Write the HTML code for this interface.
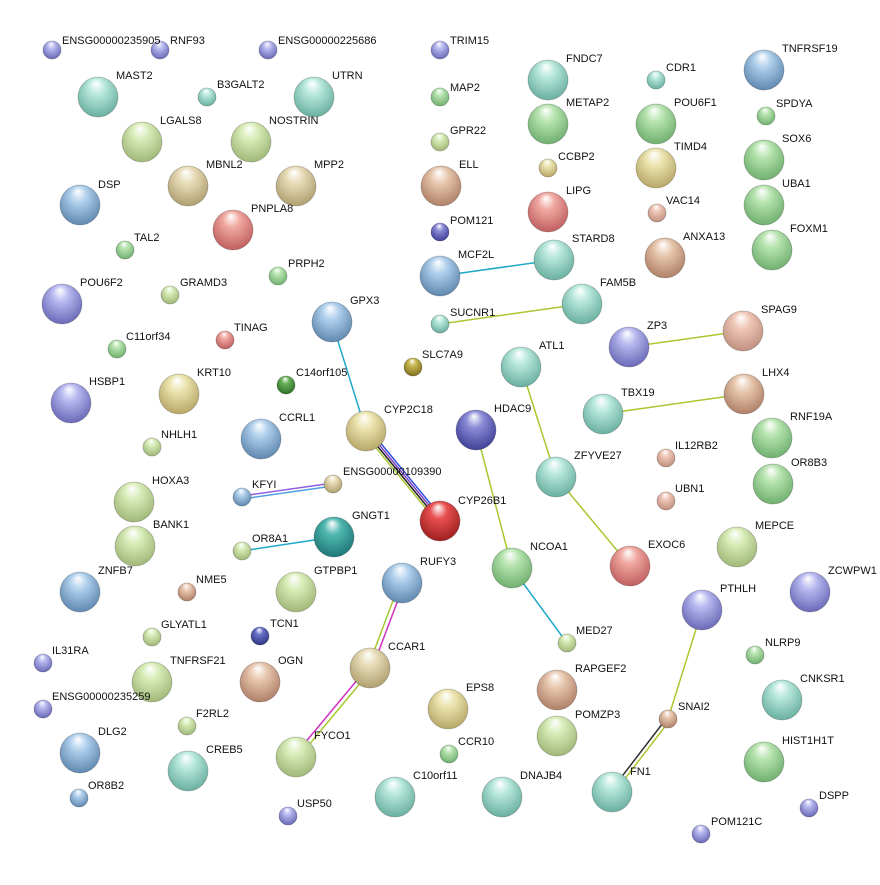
<!DOCTYPE html>
<html><head><meta charset="utf-8"><style>
html,body{margin:0;padding:0;background:#fff}
svg text{font-family:"Liberation Sans",sans-serif;font-size:11px;fill:#111}
</style></head><body>
<svg width="880" height="880" viewBox="0 0 880 880" xmlns="http://www.w3.org/2000/svg">
<defs>
<radialGradient id="purple" cx="50%" cy="40%" r="60%" fx="45%" fy="15%"><stop offset="0" stop-color="#fff"/><stop offset="0.35" stop-color="#b8b8f0"/><stop offset="1" stop-color="#6a6ab8"/></radialGradient>
<radialGradient id="teal" cx="50%" cy="40%" r="60%" fx="45%" fy="15%"><stop offset="0" stop-color="#fff"/><stop offset="0.35" stop-color="#b8e8dc"/><stop offset="1" stop-color="#6ab0a0"/></radialGradient>
<radialGradient id="green" cx="50%" cy="40%" r="60%" fx="45%" fy="15%"><stop offset="0" stop-color="#fff"/><stop offset="0.35" stop-color="#b8e4b0"/><stop offset="1" stop-color="#70b070"/></radialGradient>
<radialGradient id="lgreen" cx="50%" cy="40%" r="60%" fx="45%" fy="15%"><stop offset="0" stop-color="#fff"/><stop offset="0.35" stop-color="#d8ecb8"/><stop offset="1" stop-color="#a0b878"/></radialGradient>
<radialGradient id="tan" cx="50%" cy="40%" r="60%" fx="45%" fy="15%"><stop offset="0" stop-color="#fff"/><stop offset="0.35" stop-color="#e8dcb8"/><stop offset="1" stop-color="#b0a070"/></radialGradient>
<radialGradient id="brown" cx="50%" cy="40%" r="60%" fx="45%" fy="15%"><stop offset="0" stop-color="#fff"/><stop offset="0.35" stop-color="#e8c8b0"/><stop offset="1" stop-color="#b08068"/></radialGradient>
<radialGradient id="red" cx="50%" cy="40%" r="60%" fx="45%" fy="15%"><stop offset="0" stop-color="#fff"/><stop offset="0.35" stop-color="#f0a8a0"/><stop offset="1" stop-color="#c06060"/></radialGradient>
<radialGradient id="blue" cx="50%" cy="40%" r="60%" fx="45%" fy="15%"><stop offset="0" stop-color="#fff"/><stop offset="0.35" stop-color="#b0d0ec"/><stop offset="1" stop-color="#6088b0"/></radialGradient>
<radialGradient id="yellow" cx="50%" cy="40%" r="60%" fx="45%" fy="15%"><stop offset="0" stop-color="#fff"/><stop offset="0.35" stop-color="#ece4b0"/><stop offset="1" stop-color="#b8a868"/></radialGradient>
<radialGradient id="pink" cx="50%" cy="40%" r="60%" fx="45%" fy="15%"><stop offset="0" stop-color="#fff"/><stop offset="0.35" stop-color="#f0c8b8"/><stop offset="1" stop-color="#c09080"/></radialGradient>
<radialGradient id="olive" cx="50%" cy="40%" r="60%" fx="45%" fy="15%"><stop offset="0" stop-color="#fff"/><stop offset="0.35" stop-color="#c8b850"/><stop offset="1" stop-color="#807020"/></radialGradient>
<radialGradient id="dgreen" cx="50%" cy="40%" r="60%" fx="45%" fy="15%"><stop offset="0" stop-color="#fff"/><stop offset="0.35" stop-color="#68b058"/><stop offset="1" stop-color="#307028"/></radialGradient>
<radialGradient id="dblue" cx="50%" cy="40%" r="60%" fx="45%" fy="15%"><stop offset="0" stop-color="#fff"/><stop offset="0.35" stop-color="#6870c8"/><stop offset="1" stop-color="#303888"/></radialGradient>
<radialGradient id="crimson" cx="50%" cy="40%" r="60%" fx="45%" fy="15%"><stop offset="0" stop-color="#fff"/><stop offset="0.35" stop-color="#e85050"/><stop offset="1" stop-color="#a02020"/></radialGradient>
<radialGradient id="dteal" cx="50%" cy="40%" r="60%" fx="45%" fy="15%"><stop offset="0" stop-color="#fff"/><stop offset="0.35" stop-color="#50b8b0"/><stop offset="1" stop-color="#207878"/></radialGradient>
<radialGradient id="dpurple" cx="50%" cy="40%" r="60%" fx="45%" fy="15%"><stop offset="0" stop-color="#fff"/><stop offset="0.35" stop-color="#8c8cd8"/><stop offset="1" stop-color="#404098"/></radialGradient>
</defs>

<!-- edges -->
<g fill="none" stroke-width="1.5">
<line x1="440" y1="276" x2="554" y2="260" stroke="#20a8c8"/>
<line x1="440" y1="324" x2="582" y2="304" stroke="#a8c830"/>
<line x1="629" y1="347" x2="743" y2="331" stroke="#a8c830"/>
<line x1="603" y1="414" x2="744" y2="394" stroke="#a8c830"/>
<line x1="332" y1="322" x2="366" y2="431" stroke="#20a8c8"/>
<line x1="363" y1="432" x2="437" y2="522" stroke="#a8c830"/>
<line x1="365" y1="431" x2="439" y2="521" stroke="#202020"/>
<line x1="367" y1="430" x2="441" y2="520" stroke="#8040c0"/>
<line x1="369" y1="429" x2="443" y2="519" stroke="#3050e0"/>
<line x1="242" y1="496" x2="333" y2="483" stroke="#9060e0"/>
<line x1="242" y1="499" x2="333" y2="486" stroke="#50a0e0"/>
<line x1="242" y1="551" x2="334" y2="537" stroke="#20a8c8"/>
<line x1="521" y1="367" x2="556" y2="477" stroke="#a8c830"/>
<line x1="556" y1="477" x2="630" y2="566" stroke="#a8c830"/>
<line x1="476" y1="430" x2="512" y2="568" stroke="#a8c830"/>
<line x1="512" y1="568" x2="567" y2="643" stroke="#20a8c8"/>
<line x1="400" y1="582" x2="368" y2="667" stroke="#a8c830"/>
<line x1="404" y1="584" x2="372" y2="669" stroke="#d030c0"/>
<line x1="368" y1="667" x2="294" y2="756" stroke="#d030c0"/>
<line x1="372" y1="669" x2="298" y2="758" stroke="#a8c830"/>
<line x1="702" y1="610" x2="668" y2="719" stroke="#a8c830"/>
<line x1="666" y1="719" x2="610" y2="792" stroke="#303030"/>
<line x1="670" y1="720" x2="614" y2="793" stroke="#a8c830"/>
</g>

<!-- nodes -->
<g stroke="#00000040" stroke-width="0.8">
<circle cx="52" cy="50" r="9" fill="url(#purple)"/>
<circle cx="160" cy="50" r="9" fill="url(#purple)"/>
<circle cx="268" cy="50" r="9" fill="url(#purple)"/>
<circle cx="440" cy="50" r="9" fill="url(#purple)"/>
<circle cx="98" cy="97" r="20" fill="url(#teal)"/>
<circle cx="207" cy="97" r="9" fill="url(#teal)"/>
<circle cx="314" cy="97" r="20" fill="url(#teal)"/>
<circle cx="440" cy="97" r="9" fill="url(#green)"/>
<circle cx="548" cy="80" r="20" fill="url(#teal)"/>
<circle cx="656" cy="80" r="9" fill="url(#teal)"/>
<circle cx="764" cy="70" r="20" fill="url(#blue)"/>
<circle cx="142" cy="142" r="20" fill="url(#lgreen)"/>
<circle cx="251" cy="142" r="20" fill="url(#lgreen)"/>
<circle cx="440" cy="142" r="9" fill="url(#lgreen)"/>
<circle cx="548" cy="124" r="20" fill="url(#green)"/>
<circle cx="656" cy="124" r="20" fill="url(#green)"/>
<circle cx="766" cy="116" r="9" fill="url(#green)"/>
<circle cx="764" cy="160" r="20" fill="url(#green)"/>
<circle cx="80" cy="205" r="20" fill="url(#blue)"/>
<circle cx="188" cy="186" r="20" fill="url(#tan)"/>
<circle cx="296" cy="186" r="20" fill="url(#tan)"/>
<circle cx="441" cy="186" r="20" fill="url(#brown)"/>
<circle cx="548" cy="168" r="9" fill="url(#yellow)"/>
<circle cx="656" cy="168" r="20" fill="url(#yellow)"/>
<circle cx="764" cy="205" r="20" fill="url(#green)"/>
<circle cx="233" cy="230" r="20" fill="url(#red)"/>
<circle cx="548" cy="212" r="20" fill="url(#red)"/>
<circle cx="440" cy="232" r="9" fill="url(#dpurple)"/>
<circle cx="657" cy="213" r="9" fill="url(#pink)"/>
<circle cx="772" cy="250" r="20" fill="url(#green)"/>
<circle cx="125" cy="250" r="9" fill="url(#green)"/>
<circle cx="554" cy="260" r="20" fill="url(#teal)"/>
<circle cx="440" cy="276" r="20" fill="url(#blue)"/>
<circle cx="665" cy="258" r="20" fill="url(#brown)"/>
<circle cx="278" cy="276" r="9" fill="url(#green)"/>
<circle cx="170" cy="295" r="9" fill="url(#lgreen)"/>
<circle cx="62" cy="304" r="20" fill="url(#purple)"/>
<circle cx="582" cy="304" r="20" fill="url(#teal)"/>
<circle cx="332" cy="322" r="20" fill="url(#blue)"/>
<circle cx="440" cy="324" r="9" fill="url(#teal)"/>
<circle cx="743" cy="331" r="20" fill="url(#pink)"/>
<circle cx="629" cy="347" r="20" fill="url(#purple)"/>
<circle cx="225" cy="340" r="9" fill="url(#red)"/>
<circle cx="117" cy="349" r="9" fill="url(#green)"/>
<circle cx="521" cy="367" r="20" fill="url(#teal)"/>
<circle cx="413" cy="367" r="9" fill="url(#olive)"/>
<circle cx="71" cy="403" r="20" fill="url(#purple)"/>
<circle cx="179" cy="394" r="20" fill="url(#yellow)"/>
<circle cx="286" cy="385" r="9" fill="url(#dgreen)"/>
<circle cx="744" cy="394" r="20" fill="url(#brown)"/>
<circle cx="603" cy="414" r="20" fill="url(#teal)"/>
<circle cx="261" cy="439" r="20" fill="url(#blue)"/>
<circle cx="366" cy="431" r="20" fill="url(#yellow)"/>
<circle cx="476" cy="430" r="20" fill="url(#dpurple)"/>
<circle cx="772" cy="438" r="20" fill="url(#green)"/>
<circle cx="152" cy="447" r="9" fill="url(#lgreen)"/>
<circle cx="666" cy="458" r="9" fill="url(#pink)"/>
<circle cx="556" cy="477" r="20" fill="url(#teal)"/>
<circle cx="773" cy="484" r="20" fill="url(#green)"/>
<circle cx="134" cy="502" r="20" fill="url(#lgreen)"/>
<circle cx="242" cy="497" r="9" fill="url(#blue)"/>
<circle cx="333" cy="484" r="9" fill="url(#tan)"/>
<circle cx="666" cy="501" r="9" fill="url(#pink)"/>
<circle cx="440" cy="521" r="20" fill="url(#crimson)"/>
<circle cx="135" cy="546" r="20" fill="url(#lgreen)"/>
<circle cx="334" cy="537" r="20" fill="url(#dteal)"/>
<circle cx="242" cy="551" r="9" fill="url(#lgreen)"/>
<circle cx="512" cy="568" r="20" fill="url(#green)"/>
<circle cx="630" cy="566" r="20" fill="url(#red)"/>
<circle cx="737" cy="547" r="20" fill="url(#lgreen)"/>
<circle cx="80" cy="592" r="20" fill="url(#blue)"/>
<circle cx="187" cy="592" r="9" fill="url(#brown)"/>
<circle cx="296" cy="592" r="20" fill="url(#lgreen)"/>
<circle cx="402" cy="583" r="20" fill="url(#blue)"/>
<circle cx="810" cy="592" r="20" fill="url(#purple)"/>
<circle cx="702" cy="610" r="20" fill="url(#purple)"/>
<circle cx="567" cy="643" r="9" fill="url(#lgreen)"/>
<circle cx="152" cy="637" r="9" fill="url(#lgreen)"/>
<circle cx="260" cy="636" r="9" fill="url(#dblue)"/>
<circle cx="43" cy="663" r="9" fill="url(#purple)"/>
<circle cx="370" cy="668" r="20" fill="url(#tan)"/>
<circle cx="557" cy="690" r="20" fill="url(#brown)"/>
<circle cx="755" cy="655" r="9" fill="url(#green)"/>
<circle cx="152" cy="682" r="20" fill="url(#lgreen)"/>
<circle cx="260" cy="682" r="20" fill="url(#brown)"/>
<circle cx="448" cy="709" r="20" fill="url(#yellow)"/>
<circle cx="43" cy="709" r="9" fill="url(#purple)"/>
<circle cx="782" cy="700" r="20" fill="url(#teal)"/>
<circle cx="187" cy="726" r="9" fill="url(#lgreen)"/>
<circle cx="668" cy="719" r="9" fill="url(#brown)"/>
<circle cx="557" cy="736" r="20" fill="url(#lgreen)"/>
<circle cx="80" cy="753" r="20" fill="url(#blue)"/>
<circle cx="449" cy="754" r="9" fill="url(#green)"/>
<circle cx="296" cy="757" r="20" fill="url(#lgreen)"/>
<circle cx="188" cy="771" r="20" fill="url(#teal)"/>
<circle cx="764" cy="762" r="20" fill="url(#green)"/>
<circle cx="395" cy="797" r="20" fill="url(#teal)"/>
<circle cx="502" cy="797" r="20" fill="url(#teal)"/>
<circle cx="612" cy="792" r="20" fill="url(#teal)"/>
<circle cx="79" cy="798" r="9" fill="url(#blue)"/>
<circle cx="288" cy="816" r="9" fill="url(#purple)"/>
<circle cx="809" cy="808" r="9" fill="url(#purple)"/>
<circle cx="701" cy="834" r="9" fill="url(#purple)"/>
</g>

<!-- labels -->
<g>
<text x="62" y="44">ENSG00000235905</text>
<text x="170" y="44">RNF93</text>
<text x="278" y="44">ENSG00000225686</text>
<text x="450" y="44">TRIM15</text>
<text x="116" y="79">MAST2</text>
<text x="217" y="88">B3GALT2</text>
<text x="332" y="79">UTRN</text>
<text x="450" y="91">MAP2</text>
<text x="566" y="62">FNDC7</text>
<text x="666" y="71">CDR1</text>
<text x="782" y="52">TNFRSF19</text>
<text x="160" y="124">LGALS8</text>
<text x="269" y="124">NOSTRIN</text>
<text x="450" y="134">GPR22</text>
<text x="566" y="106">METAP2</text>
<text x="674" y="106">POU6F1</text>
<text x="776" y="107">SPDYA</text>
<text x="782" y="142">SOX6</text>
<text x="98" y="188">DSP</text>
<text x="206" y="168">MBNL2</text>
<text x="314" y="168">MPP2</text>
<text x="459" y="168">ELL</text>
<text x="558" y="160">CCBP2</text>
<text x="674" y="150">TIMD4</text>
<text x="782" y="187">UBA1</text>
<text x="251" y="212">PNPLA8</text>
<text x="566" y="194">LIPG</text>
<text x="450" y="224">POM121</text>
<text x="666" y="204">VAC14</text>
<text x="790" y="232">FOXM1</text>
<text x="134" y="241">TAL2</text>
<text x="572" y="242">STARD8</text>
<text x="458" y="258">MCF2L</text>
<text x="683" y="240">ANXA13</text>
<text x="288" y="267">PRPH2</text>
<text x="180" y="286">GRAMD3</text>
<text x="80" y="286">POU6F2</text>
<text x="600" y="286">FAM5B</text>
<text x="350" y="304">GPX3</text>
<text x="450" y="316">SUCNR1</text>
<text x="761" y="313">SPAG9</text>
<text x="647" y="329">ZP3</text>
<text x="234" y="331">TINAG</text>
<text x="126" y="340">C11orf34</text>
<text x="539" y="349">ATL1</text>
<text x="422" y="358">SLC7A9</text>
<text x="89" y="385">HSBP1</text>
<text x="197" y="376">KRT10</text>
<text x="296" y="376">C14orf105</text>
<text x="762" y="376">LHX4</text>
<text x="621" y="396">TBX19</text>
<text x="279" y="421">CCRL1</text>
<text x="384" y="413">CYP2C18</text>
<text x="494" y="412">HDAC9</text>
<text x="790" y="420">RNF19A</text>
<text x="161" y="438">NHLH1</text>
<text x="675" y="449">IL12RB2</text>
<text x="574" y="459">ZFYVE27</text>
<text x="791" y="466">OR8B3</text>
<text x="152" y="484">HOXA3</text>
<text x="252" y="488">KFYI</text>
<text x="343" y="475">ENSG00000109390</text>
<text x="675" y="492">UBN1</text>
<text x="458" y="504">CYP26B1</text>
<text x="153" y="528">BANK1</text>
<text x="352" y="519">GNGT1</text>
<text x="252" y="542">OR8A1</text>
<text x="530" y="550">NCOA1</text>
<text x="648" y="548">EXOC6</text>
<text x="755" y="529">MEPCE</text>
<text x="98" y="574">ZNFB7</text>
<text x="196" y="583">NME5</text>
<text x="314" y="574">GTPBP1</text>
<text x="420" y="565">RUFY3</text>
<text x="828" y="574">ZCWPW1</text>
<text x="720" y="592">PTHLH</text>
<text x="576" y="634">MED27</text>
<text x="161" y="628">GLYATL1</text>
<text x="270" y="627">TCN1</text>
<text x="52" y="654">IL31RA</text>
<text x="388" y="650">CCAR1</text>
<text x="575" y="672">RAPGEF2</text>
<text x="765" y="646">NLRP9</text>
<text x="170" y="664">TNFRSF21</text>
<text x="278" y="664">OGN</text>
<text x="466" y="691">EPS8</text>
<text x="52" y="700">ENSG00000235259</text>
<text x="800" y="682">CNKSR1</text>
<text x="196" y="717">F2RL2</text>
<text x="678" y="710">SNAI2</text>
<text x="575" y="718">POMZP3</text>
<text x="98" y="735">DLG2</text>
<text x="458" y="745">CCR10</text>
<text x="314" y="739">FYCO1</text>
<text x="206" y="753">CREB5</text>
<text x="782" y="744">HIST1H1T</text>
<text x="413" y="779">C10orf11</text>
<text x="520" y="779">DNAJB4</text>
<text x="630" y="775">FN1</text>
<text x="88" y="789">OR8B2</text>
<text x="297" y="807">USP50</text>
<text x="819" y="799">DSPP</text>
<text x="711" y="825">POM121C</text>
</g>
</svg>
</body></html>
